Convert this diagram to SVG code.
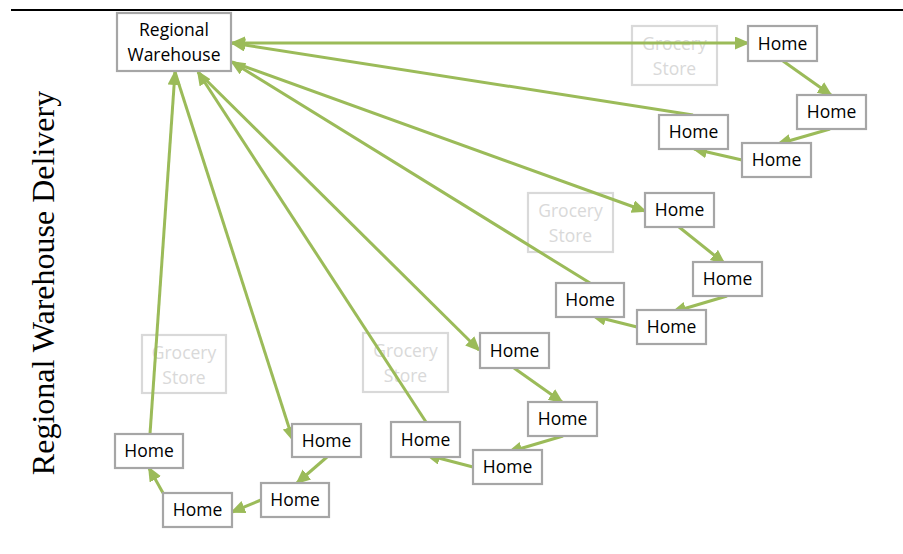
<svg xmlns="http://www.w3.org/2000/svg" width="903" height="554" viewBox="0 0 903 554">
<style>
.box{fill:#fff;stroke:#a6a6a6;stroke-width:2.2}
.gbox{fill:#fff;stroke:#d9d9d9;stroke-width:2.2}
.t{font-family:"Open Sans","Liberation Sans",sans-serif;font-size:17.5px;fill:#000;text-anchor:middle}
.gt{font-family:"Open Sans","Liberation Sans",sans-serif;font-size:17.5px;fill:#d9d9d9;text-anchor:middle}
.c line{stroke:#9bbb59;stroke-width:3;fill:none;marker-end:url(#ah)}
.title{font-family:"Liberation Serif","Times New Roman",serif;font-size:32px;fill:#000;text-anchor:middle}
</style>
<defs>
<marker id="ah" markerUnits="userSpaceOnUse" markerWidth="16" markerHeight="14" refX="13" refY="6.5" orient="auto-start-reverse">
<path d="M0,0 L15,6.5 L0,13 z" fill="#9bbb59"/>
</marker>
</defs>
<rect width="903" height="554" fill="#fff"/>
<line x1="11" y1="10" x2="903" y2="10" stroke="#000" stroke-width="2"/>
<text class="title" transform="translate(54,283) rotate(-90)">Regional Warehouse Delivery</text>

<g id="grocery1"><rect class="gbox" x="632" y="26" width="85" height="59"/><text class="gt" x="674.5" y="50">Grocery</text><text class="gt" x="674.5" y="75">Store</text></g>
<g id="grocery2"><rect class="gbox" x="528" y="193" width="85" height="59"/><text class="gt" x="570.5" y="217">Grocery</text><text class="gt" x="570.5" y="242">Store</text></g>
<g id="grocery3"><rect class="gbox" x="363" y="333" width="85" height="59"/><text class="gt" x="405.5" y="357">Grocery</text><text class="gt" x="405.5" y="382">Store</text></g>
<g id="grocery4"><rect class="gbox" x="142" y="335" width="84" height="58"/><text class="gt" x="184" y="359">Grocery</text><text class="gt" x="184" y="384">Store</text></g>

<g id="connectors" class="c">
<line x1="232" y1="43" x2="748" y2="43" style="marker-start:url(#ah)"/>
<line x1="783" y1="61" x2="831" y2="95"/>
<line x1="830" y1="129" x2="778" y2="144"/>
<line x1="742" y1="160" x2="694" y2="149"/>
<line x1="693" y1="115" x2="232" y2="43"/>

<line x1="232" y1="62" x2="645" y2="211"/>
<line x1="679" y1="227" x2="724" y2="263"/>
<line x1="727" y1="296" x2="673" y2="312"/>
<line x1="637" y1="327" x2="593" y2="316"/>
<line x1="590" y1="283" x2="232" y2="62"/>

<line x1="198" y1="72" x2="479" y2="350"/>
<line x1="514" y1="368" x2="562" y2="402"/>
<line x1="563" y1="436" x2="509" y2="452"/>
<line x1="473" y1="467" x2="427" y2="455"/>
<line x1="426" y1="422" x2="198" y2="72"/>

<line x1="175" y1="72" x2="293" y2="440"/>
<line x1="327" y1="457" x2="297" y2="483"/>
<line x1="261" y1="500" x2="232" y2="512"/>
<line x1="163" y1="493" x2="149" y2="468"/>
<line x1="150" y1="434" x2="175" y2="72"/>
</g>

<g id="warehouse"><rect class="box" x="117" y="13" width="114" height="58"/><text class="t" x="174" y="36">Regional</text><text class="t" x="174" y="61">Warehouse</text></g>

<g id="home1a"><rect class="box" x="748" y="26" width="69" height="35"/><text class="t" x="782.5" y="50">Home</text></g>
<g id="home1b"><rect class="box" x="797" y="95" width="69" height="34"/><text class="t" x="831.5" y="118">Home</text></g>
<g id="home1c"><rect class="box" x="742" y="143" width="69" height="34"/><text class="t" x="776.5" y="166">Home</text></g>
<g id="home1d"><rect class="box" x="659" y="115" width="69" height="34"/><text class="t" x="693.5" y="138">Home</text></g>

<g id="home2a"><rect class="box" x="645" y="193" width="69" height="34"/><text class="t" x="679.5" y="216">Home</text></g>
<g id="home2b"><rect class="box" x="693" y="262" width="69" height="34"/><text class="t" x="727.5" y="285">Home</text></g>
<g id="home2c"><rect class="box" x="637" y="310" width="69" height="34"/><text class="t" x="671.5" y="333">Home</text></g>
<g id="home2d"><rect class="box" x="556" y="283" width="68" height="34"/><text class="t" x="590" y="306">Home</text></g>

<g id="home3a"><rect class="box" x="480" y="333" width="69" height="35"/><text class="t" x="514.5" y="357">Home</text></g>
<g id="home3b"><rect class="box" x="528" y="402" width="69" height="34"/><text class="t" x="562.5" y="425">Home</text></g>
<g id="home3c"><rect class="box" x="473" y="450" width="69" height="34"/><text class="t" x="507.5" y="473">Home</text></g>
<g id="home3d"><rect class="box" x="391" y="422" width="69" height="35"/><text class="t" x="425.5" y="446">Home</text></g>

<g id="home4a"><rect class="box" x="292" y="424" width="69" height="33"/><text class="t" x="326.5" y="447">Home</text></g>
<g id="home4b"><rect class="box" x="261" y="483" width="68" height="34"/><text class="t" x="295" y="506">Home</text></g>
<g id="home4c"><rect class="box" x="163" y="493" width="69" height="34"/><text class="t" x="197.5" y="516">Home</text></g>
<g id="home4d"><rect class="box" x="115" y="434" width="68" height="34"/><text class="t" x="149" y="457">Home</text></g>
</svg>
